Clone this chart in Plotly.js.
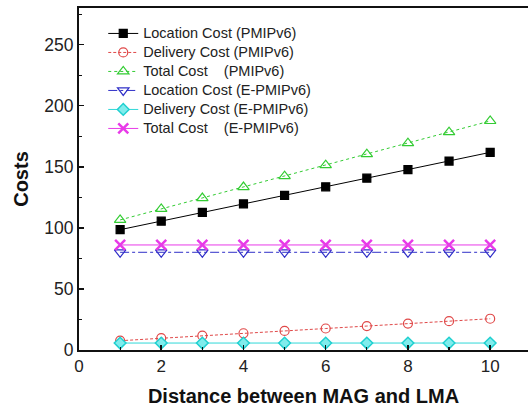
<!DOCTYPE html>
<html>
<head>
<meta charset="utf-8">
<script src="https://cdn.plot.ly/plotly-3.0.1.min.js"></script>
<style>html,body{margin:0;padding:0;background:#fff;}#chart{width:528px;height:410px;}</style>
</head>
<body>
<div id="chart"></div>
<script>
const distance = [1, 2, 3, 4, 5, 6, 7, 8, 9, 10];
const locationPMIP = [98.5, 105.5, 112.6, 119.6, 126.6, 133.6, 140.7, 147.7, 154.7, 161.8];
const deliveryPMIP = [7.6, 9.7, 11.7, 13.7, 15.6, 17.6, 19.6, 21.6, 23.6, 25.6];
const totalPMIP = [106.5, 115.5, 124.4, 133.4, 142.3, 151.3, 160.3, 169.3, 178.3, 187.5];
const locationEPMIP = [80, 80, 80, 80, 80, 80, 80, 80, 80, 80];
const deliveryEPMIP = [5.7, 5.7, 5.7, 5.7, 5.7, 5.7, 5.7, 5.7, 5.7, 5.7];
const totalEPMIP = [86, 86, 86, 86, 86, 86, 86, 86, 86, 86];
const seriesNames = [
  "Location Cost (PMIPv6)",
  "Delivery Cost (PMIPv6)",
  "Total Cost\u00A0\u00A0\u00A0\u00A0(PMIPv6)",
  "Location Cost (E-PMIPv6)",
  "Delivery Cost (E-PMIPv6)",
  "Total Cost\u00A0\u00A0\u00A0\u00A0(E-PMIPv6)"
];
const xTitle = "Distance between MAG and LMA";
const yTitle = "Costs";

const FONT = "Liberation Sans, Arial, sans-serif";
function legendLabel(s) { return '<span style="font-size:14.5px">' + s + '</span>'; }
function tr(y, name, color, dash, symbol, msize, extra) {
  const m = {symbol: symbol, size: msize, color: color, line: {color: color, width: 1.2}};
  Object.assign(m, extra || {});
  return {x: distance, y: y, name: legendLabel(name), type: 'scatter', mode: 'lines+markers',
          line: {color: color, width: 1, dash: dash}, marker: m, cliponaxis: false};
}
const data = [
  tr(locationPMIP, seriesNames[0], '#000000', 'solid', 'square', 8),
  tr(deliveryPMIP, seriesNames[1], '#e04848', '3px,2px', 'circle-open', 9),
  tr(totalPMIP, seriesNames[2], '#33cc33', 'dot', 'triangle-up-open', 10),
  tr(locationEPMIP, seriesNames[3], '#3030c8', 'dashdot', 'triangle-down-open', 10),
  tr(deliveryEPMIP, seriesNames[4], '#30d8d8', 'solid', 'diamond', 9, {color: '#80ecec', line: {color: '#20d0d0', width: 1.5}}),
  tr(totalEPMIP, seriesNames[5], '#e83ae8', 'solid', 'x-thin', 10, {line: {color: '#e83ae8', width: 2.5}})
];
const layout = {
  width: 528, height: 410,
  margin: {l: 78.5, r: 0, t: 8, b: 60},
  paper_bgcolor: '#fff', plot_bgcolor: '#fff',
  font: {family: FONT, color: '#222'},
  showlegend: true,
  legend: {x: 0.054, y: 0.968, xanchor: 'left', yanchor: 'top', bgcolor: 'rgba(0,0,0,0)',
           font: {family: FONT, size: 11.1, color: '#222'}, tracegroupgap: 0},
  xaxis: {
    range: [0, 10.92], tickvals: [0, 2, 4, 6, 8, 10], ticktext: ['0','2','4','6','8','10'],
    ticks: 'inside', ticklen: 5, tickwidth: 1.5, tickcolor: '#111',
    minor: {dtick: 1, tick0: 0, ticks: 'inside', ticklen: 3, tickwidth: 1.2, tickcolor: '#111'},
    showline: true, linecolor: '#111', linewidth: 2, mirror: true,
    showgrid: false, zeroline: false,
    tickfont: {family: FONT, size: 17, color: '#222'},
    title: {text: xTitle, font: {family: FONT, size: 20, color: '#111', weight: 'bold'}, standoff: 14}
  },
  yaxis: {
    range: [0, 280], tickvals: [0, 50, 100, 150, 200, 250],
    ticks: 'inside', ticklen: 5, tickwidth: 1.5, tickcolor: '#111',
    minor: {dtick: 25, tick0: 0, ticks: 'inside', ticklen: 3, tickwidth: 1.2, tickcolor: '#111'},
    showline: true, linecolor: '#111', linewidth: 2,
    showgrid: false, zeroline: false,
    tickfont: {family: FONT, size: 17.5, color: '#222'},
    title: {text: yTitle, font: {family: FONT, size: 20, color: '#111', weight: 'bold'}, standoff: 10}
  }
};
Plotly.newPlot('chart', data, layout, {staticPlot: true, displayModeBar: false});
</script>
</body>
</html>
